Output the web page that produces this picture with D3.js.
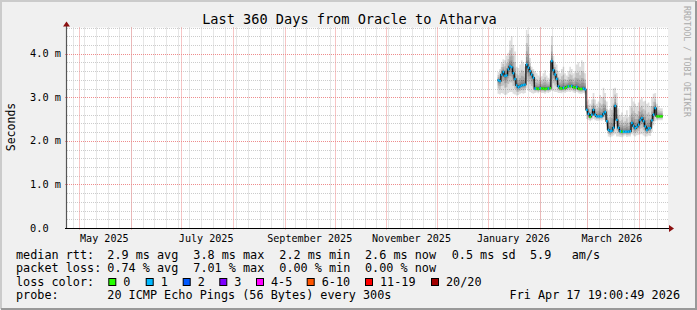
<!DOCTYPE html>
<html lang="en">
<head>
<meta charset="UTF-8">
<title>Last 360 Days from Oracle to Atharva</title>
<script src="https://d3js.org/d3.v7.min.js"></script>
<style>
  body { margin: 0; background: #f0f0f0; }
  svg text { font-family: "DejaVu Sans Mono", monospace; white-space: pre; fill: #000; }
</style>
</head>
<body>
<svg width="697" height="310"></svg>
<script>
// ---- data (one value per day, starting 2026-01-07) ----
const firstDay = "2026-01-07";
const median = [3.39, 3.37, 3.52, 3.58, 3.49, 3.50, 3.64, 3.71, 3.69, 3.55, 3.42, 3.27, 3.23, 3.25, 3.27, 3.28, 3.29,
  3.75, 3.68, 3.60, 3.52, 3.45, 3.20, 3.20, 3.19, 3.21, 3.20, 3.20, 3.19, 3.20, 3.20, 3.21, 3.83, 3.62, 3.52, 3.42,
  3.25, 3.21, 3.20, 3.22, 3.21, 3.24, 3.25, 3.25, 3.26, 3.23, 3.22, 3.24, 3.20, 3.19, 3.19, 3.20, 3.18,
  2.71, 2.62, 2.55, 2.60, 2.71, 2.60, 2.56, 2.56, 2.56, 2.56, 2.62, 2.66, 2.45, 2.25, 2.22, 2.23, 2.30, 2.80,
  2.48, 2.30, 2.22, 2.21, 2.21, 2.21, 2.21, 2.21, 2.22, 2.41, 2.34, 2.29, 2.32, 2.37, 2.48, 2.52, 2.45, 2.33,
  2.25, 2.29, 2.29, 2.47, 2.60, 2.75, 2.56, 2.56, 2.56, 2.56];
const pingMax = [3.58, 3.65, 3.80, 3.87, 3.85, 3.95, 4.02, 4.30, 4.40, 4.20, 4.05, 3.70, 3.67, 3.75, 3.85, 3.80, 3.70,
  4.55, 4.45, 3.90, 3.70, 3.65, 3.60, 3.55, 3.50, 3.60, 3.48, 3.55, 3.62, 3.50, 3.45, 3.55, 4.40, 3.95, 3.80, 3.75,
  3.60, 3.55, 3.65, 3.70, 3.55, 3.50, 3.60, 3.70, 3.65, 3.55, 3.60, 3.75, 3.80, 3.70, 3.85, 3.80, 3.55,
  2.90, 2.95, 2.85, 2.95, 3.10, 2.95, 2.85, 2.90, 3.05, 3.00, 3.22, 3.10, 2.90, 2.70, 2.75, 3.00, 3.20, 3.22,
  3.10, 2.75, 2.60, 2.65, 2.55, 2.60, 2.70, 2.55, 2.80, 2.98, 2.90, 2.85, 2.80, 2.88, 2.95, 2.98, 2.90, 2.92,
  2.85, 2.88, 2.80, 3.00, 3.08, 3.10, 2.85, 2.80, 2.75, 2.75];
const pingMin = [3.08, 3.06, 3.10, 3.08, 3.05, 3.06, 3.10, 3.12, 3.12, 3.08, 3.06, 3.04, 3.05, 3.08, 3.10, 3.08, 3.10,
  3.20, 3.15, 3.12, 3.10, 3.08, 3.10, 3.11, 3.09, 3.12, 3.10, 3.10, 3.08, 3.11, 3.10, 3.12, 3.15, 3.14, 3.12, 3.12,
  3.10, 3.10, 3.09, 3.12, 3.10, 3.12, 3.13, 3.12, 3.14, 3.11, 3.10, 3.12, 3.09, 3.08, 3.08, 3.10, 3.06,
  2.50, 2.48, 2.45, 2.47, 2.50, 2.47, 2.46, 2.46, 2.47, 2.46, 2.48, 2.48, 2.25, 2.10, 2.08, 2.10, 2.12, 2.15,
  2.10, 2.10, 2.09, 2.08, 2.10, 2.12, 2.09, 2.10, 2.10, 2.15, 2.12, 2.10, 2.13, 2.14, 2.15, 2.15, 2.12, 2.10,
  2.10, 2.12, 2.11, 2.20, 2.35, 2.45, 2.47, 2.47, 2.47, 2.47];
const lossBin = [1, 1, 1, 1, 1, 1, 1, 1, 1, 1, 1, 1, 1, 1, 1, 1, 1,
  1, 1, 1, 1, 1, 1, 0, 0, 1, 0, 0, 0, 0, 1, 0, 1, 1, 1, 1,
  1, 0, 0, 1, 0, 0, 1, 0, 1, 0, 0, 1, 0, 0, 0, 1, 1,
  1, 1, 0, 1, 1, 1, 1, 1, 1, 1, 1, 1, 1, 1, 1, 1, 1, 1,
  1, 1, 1, 0, 1, 1, 1, 1, 1, 1, 1, 1, 1, 1, 1, 1, 1, 1,
  1, 1, 1, 1, 1, 1, 0, 0, 0, 0];

const lossColors = ["#26ff00", "#00b8ff", "#0059ff", "#7e00ff", "#ff00ff", "#ff5500", "#ff0000", "#a10000"];
const lossLabels = ["0", "1", "2", "3", "4-5", "6-10", "11-19", "20/20"];

const titleText = "Last 360 Days from Oracle to Atharva";
const rttLine = ["median rtt:", "2.9 ms avg", "3.8 ms max", "2.2 ms min", "2.6 ms now", "0.5 ms sd", "5.9", "am/s"];
const lossLine = ["packet loss:", "0.74 % avg", "7.01 % max", "0.00 % min", "0.00 % now"];
const probeLine = ["probe:", "20 ICMP Echo Pings (56 Bytes) every 300s"];
const stamp = "Fri Apr 17 19:00:49 2026";

// ---- setup ----
const svg = d3.select("svg");
const plotLeft = 67, plotRight = 668, plotTop = 27.5, plotBottom = 228;

const x = d3.scaleUtc()
    .domain([new Date(Date.UTC(2025, 3, 23, 15)), new Date(Date.UTC(2026, 3, 18, 15))])
    .range([plotLeft, plotRight]);
const y = d3.scaleLinear().domain([0, 4.6]).range([plotBottom, plotTop]);

// background and frame
svg.append("rect").attr("width", 697).attr("height", 310).attr("fill", "#f0f0f0");
svg.append("path").attr("d", "M1,309V1H696").attr("fill", "none").attr("stroke", "#cbcbcb").attr("stroke-width", 2);
svg.append("path").attr("d", "M1,309H696V1").attr("fill", "none").attr("stroke", "#999").attr("stroke-width", 2);
svg.append("rect").attr("x", plotLeft).attr("y", plotTop)
    .attr("width", plotRight - plotLeft).attr("height", plotBottom - plotTop).attr("fill", "#fff");

// grid
const grid = svg.append("g");
const sundays = d3.utcSunday.range(x.domain()[0], x.domain()[1]);
const months = d3.utcMonth.range(x.domain()[0], x.domain()[1]);
const px = v => Math.round(v) + 0.5;

grid.selectAll(".vmin").data(sundays).join("line")
    .attr("x1", d => px(x(d))).attr("x2", d => px(x(d)))
    .attr("y1", plotTop).attr("y2", plotBottom)
    .attr("stroke", "#cccccc").attr("stroke-dasharray", "1,1");

const minorY = d3.range(1, 24).map(i => i / 5).filter(v => Math.abs(v - Math.round(v)) > 0.01);
grid.selectAll(".hmin").data(minorY).join("line")
    .attr("x1", plotLeft).attr("x2", plotRight)
    .attr("y1", d => px(y(d))).attr("y2", d => px(y(d)))
    .attr("stroke", "#cccccc").attr("stroke-dasharray", "1,1");

grid.selectAll(".vmaj").data(months).join("line")
    .attr("x1", d => px(x(d))).attr("x2", d => px(x(d)))
    .attr("y1", plotTop).attr("y2", plotBottom + 2)
    .attr("stroke", "#ee8c8c").attr("stroke-dasharray", "1,1");

const majorY = [1, 2, 3, 4];
grid.selectAll(".hmaj").data(majorY).join("line")
    .attr("x1", plotLeft - 2).attr("x2", plotRight)
    .attr("y1", d => px(y(d))).attr("y2", d => px(y(d)))
    .attr("stroke", "#ee8c8c").attr("stroke-dasharray", "1,1");

// ---- smoke ----
const start = new Date(firstDay + "T00:00:00Z");
const rows = median.map((m, i) => ({
    t: d3.utcDay.offset(start, i), med: m, hi: pingMax[i], lo: pingMin[i], loss: lossBin[i]
}));
const half = 12 * 3600 * 1000;
const stepPts = rows.map(r => ({ ...r, ts: new Date(+r.t - half) }));
const last = rows[rows.length - 1];
stepPts.push({ ...last, ts: new Date(+last.t + half) });

// layered bands, darker towards the median
const spread = [1.0, 0.62, 0.38, 0.22, 0.11, 0.04];
const smoke = svg.append("g");
spread.forEach(f => {
    const area = d3.area()
        .curve(d3.curveStepAfter)
        .x(d => x(d.ts))
        .y0(d => y(d.med - (d.med - d.lo) * f))
        .y1(d => y(d.med + (d.hi - d.med) * f));
    smoke.append("path").datum(stepPts).attr("d", area)
        .attr("fill", "#000").attr("fill-opacity", 0.13);
});

// median: dark connecting line plus loss-coloured marks
svg.append("path").datum(stepPts)
    .attr("d", d3.line().curve(d3.curveStepAfter).x(d => x(d.ts)).y(d => y(d.med)))
    .attr("fill", "none").attr("stroke", "#111").attr("stroke-width", 1.3);

svg.append("g").selectAll("line").data(rows).join("line")
    .attr("x1", d => x(new Date(+d.t - half))).attr("x2", d => x(new Date(+d.t + half)))
    .attr("y1", d => y(d.med)).attr("y2", d => y(d.med))
    .attr("stroke", d => lossColors[d.loss]).attr("stroke-width", 2.4);

// ---- axes ----
svg.append("line").attr("x1", plotLeft - 0.5).attr("x2", plotLeft - 0.5).attr("y1", plotBottom).attr("y2", plotTop - 2)
    .attr("stroke", "#555").attr("stroke-width", 1.2);
svg.append("line").attr("x1", plotLeft - 2).attr("x2", plotRight + 2).attr("y1", plotBottom + 0.5).attr("y2", plotBottom + 0.5)
    .attr("stroke", "#000").attr("stroke-width", 1.2);
svg.append("path").attr("d", `M${plotLeft - 0.5},${plotTop - 6}l-3.5,5h7z`).attr("fill", "#8b1010");
svg.append("path").attr("d", `M${plotRight + 6},${plotBottom + 0.5}l-5,-3.5v7z`).attr("fill", "#8b1010");

// y labels
svg.append("g").attr("font-size", "10.3px").attr("text-anchor", "end")
    .selectAll("text").data([0, 1, 2, 3, 4]).join("text")
    .attr("x", 61).attr("y", d => y(d) + 3.6)
    .text(d => d === 0 ? "0.0  " : d3.format(".1f")(d) + " m");

// x labels: every second month, centred half a month after its start
const labelMonths = months.filter(d => d.getUTCMonth() % 2 === 0);
svg.append("g").attr("font-size", "10.1px").attr("text-anchor", "middle")
    .selectAll("text").data(labelMonths).join("text")
    .attr("x", d => x(d3.utcDay.offset(d, 15)))
    .attr("y", 241.5)
    .text(d => d3.utcFormat("%B %Y")(d));

svg.append("text").attr("transform", "translate(14.5,127) rotate(-90)")
    .attr("text-anchor", "middle").attr("font-size", "11.5px").text("Seconds");

svg.append("text").attr("transform", "translate(684,6) rotate(90)")
    .attr("font-size", "8.4px").style("fill", "#aaa").text("RRDTOOL / TOBI OETIKER");

// title
svg.append("text").attr("x", 349.5).attr("y", 24).attr("text-anchor", "middle")
    .attr("font-size", "13.6px").text(titleText);

// ---- legend ----
const lg = svg.append("g").attr("font-size", "11.8px");
const colX = [16, 107.3, 193.3, 279.3, 365, 451.7, 530, 571.7];
rttLine.forEach((s, i) => lg.append("text").attr("x", colX[i]).attr("y", 258.5).text(s));
lossLine.forEach((s, i) => lg.append("text").attr("x", colX[i]).attr("y", 272).text(s));
lg.append("text").attr("x", 16).attr("y", 285.7).text("loss color:");
const boxX = [108.3, 145.7, 182.7, 219.3, 256, 306.7, 365, 431];
lossLabels.forEach((s, i) => {
    lg.append("rect").attr("x", boxX[i] + 0.5).attr("y", 278.5).attr("width", 7).attr("height", 7)
        .attr("fill", lossColors[i]).attr("stroke", "#000");
    lg.append("text").attr("x", boxX[i] + 15).attr("y", 285.7).text(s);
});
probeLine.forEach((s, i) => lg.append("text").attr("x", colX[i]).attr("y", 299.3).text(s));
lg.append("text").attr("x", 680).attr("y", 299.3).attr("text-anchor", "end").text(stamp);
</script>
</body>
</html>
